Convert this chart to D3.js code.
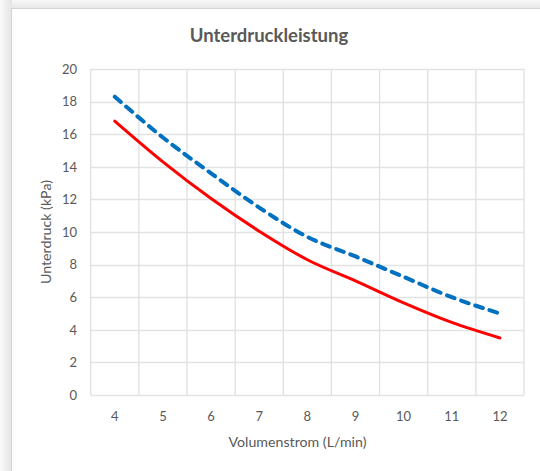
<!DOCTYPE html>
<html>
<head>
<meta charset="utf-8">
<script src="https://cdn.jsdelivr.net/npm/d3@7"></script>
<style>
  html, body { margin: 0; padding: 0; background: #f3f3f3; }
  svg { display: block; }
  text { font-family: Lato, "Open Sans", sans-serif; fill: #595959; }
</style>
</head>
<body>
<script>
const categories = [4, 5, 6, 7, 8, 9, 10, 11, 12];
const seriesRed  = [16.8, 14.3, 12.05, 10.05, 8.3, 7.0, 5.65, 4.45, 3.5];
const seriesBlue = [18.3, 15.8, 13.6, 11.5, 9.7, 8.5, 7.25, 6.0, 5.0];
const yTicks = [0, 2, 4, 6, 8, 10, 12, 14, 16, 18, 20];
const titleText = "Unterdruckleistung";
const xTitle = "Volumenstrom (L/min)";
const yTitle = "Unterdruck (kPa)";

const W = 540, H = 471;
const plot = { left: 90.7, right: 524, top: 69, bottom: 395 };

const svg = d3.select("body").append("svg").attr("width", W).attr("height", H);

const defs = svg.append("defs");
const gl = defs.append("linearGradient").attr("id", "gl").attr("x1", 0).attr("x2", 1).attr("y1", 0).attr("y2", 0);
gl.append("stop").attr("offset", "0%").attr("stop-color", "#fafafa");
gl.append("stop").attr("offset", "100%").attr("stop-color", "#e4e4e4");
svg.append("rect").attr("x", 0).attr("y", 0).attr("width", 12).attr("height", H).attr("fill", "url(#gl)");
const gt = defs.append("linearGradient").attr("id", "gt").attr("x1", 0).attr("x2", 0).attr("y1", 0).attr("y2", 1);
gt.append("stop").attr("offset", "0%").attr("stop-color", "#f8f8f8");
gt.append("stop").attr("offset", "100%").attr("stop-color", "#e6e6e6");
svg.append("rect").attr("x", 12).attr("y", 0).attr("width", W).attr("height", 9).attr("fill", "url(#gt)");

svg.append("rect").attr("x", 11.5).attr("y", 8.5).attr("width", W + 10).attr("height", H + 10)
  .attr("fill", "#ffffff").attr("stroke", "#d4d4d4").attr("stroke-width", 1);

const x = d3.scaleBand().domain(categories).range([plot.left, plot.right]).padding(0);
const y = d3.scaleLinear().domain([0, 20]).range([plot.bottom, plot.top]);

svg.append("g").selectAll("line").data(yTicks).join("line")
  .attr("x1", plot.left).attr("x2", plot.right)
  .attr("y1", d => Math.round(y(d)) + 0.5).attr("y2", d => Math.round(y(d)) + 0.5)
  .attr("stroke", "#e3e3e3").attr("stroke-width", 1.3);

const bounds = categories.map(c => x(c)).concat([x(categories[categories.length - 1]) + x.bandwidth()]);
svg.append("g").selectAll("line").data(bounds).join("line")
  .attr("x1", d => d).attr("x2", d => d)
  .attr("y1", plot.top).attr("y2", plot.bottom)
  .attr("stroke", "#e0e0e0").attr("stroke-width", 1.3);

svg.append("g").selectAll("text").data(yTicks).join("text")
  .attr("x", 77).attr("y", d => y(d) + 4.8)
  .attr("text-anchor", "end").attr("font-size", "13px")
  .text(d => d);

svg.append("g").selectAll("text").data(categories).join("text")
  .attr("x", d => x(d) + x.bandwidth() / 2).attr("y", 420.5)
  .attr("text-anchor", "middle").attr("font-size", "13px")
  .text(d => d);

svg.append("text").attr("x", 269).attr("y", 41.5).attr("text-anchor", "middle")
  .attr("font-size", "18.5px").attr("font-weight", "bold").attr("fill", "#595959").text(titleText);
svg.append("text").attr("x", 297.5).attr("y", 446.5).attr("text-anchor", "middle")
  .attr("font-size", "14.2px").text(xTitle);
svg.append("text").attr("transform", "translate(51,232) rotate(-90)").attr("text-anchor", "middle")
  .attr("font-size", "14.2px").text(yTitle);

const line = d3.line()
  .x((d, i) => x(categories[i]) + x.bandwidth() / 2)
  .y(d => y(d))
  .curve(d3.curveMonotoneX);

svg.append("path").datum(seriesRed).attr("d", line)
  .attr("fill", "none").attr("stroke", "#ff0000").attr("stroke-width", 3)
  .attr("stroke-linejoin", "round").attr("stroke-linecap", "round");

svg.append("path").datum(seriesBlue).attr("d", line)
  .attr("fill", "none").attr("stroke", "#0070c0").attr("stroke-width", 4)
  .attr("stroke-dasharray", "8,7").attr("stroke-linecap", "round");
</script>
</body>
</html>
